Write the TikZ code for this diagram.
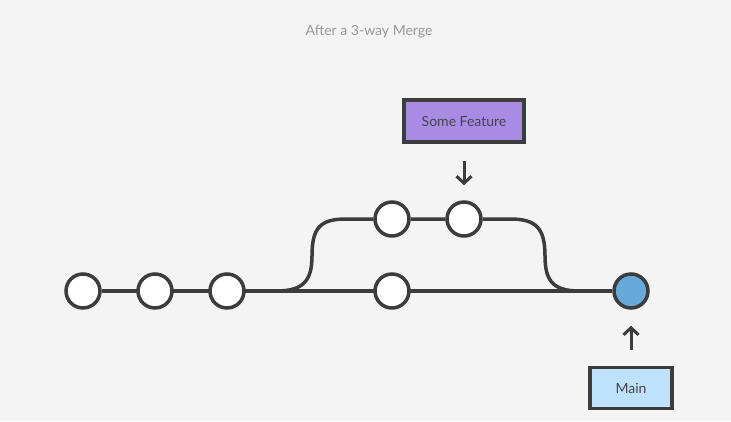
\documentclass[tikz,border=0pt]{standalone}
\usepackage{fontspec}
\setmainfont{Lato}
\usepackage{tikz}
\usetikzlibrary{positioning}
\usetikzlibrary{arrows.meta}
\pgfdeclarelayer{background}
\pgfdeclarelayer{foreground}
\pgfsetlayers{background,main,foreground}

\definecolor{bgcol}{HTML}{F4F4F4}
\definecolor{linecol}{HTML}{3C3C3C}
\definecolor{featcol}{HTML}{A88BE2}
\definecolor{maincol}{HTML}{BEE2FB}
\definecolor{headcol}{HTML}{68A9DB}
\definecolor{titlecol}{HTML}{999999}

\begin{document}
\begin{tikzpicture}[x=1pt,y=-1pt,
							commitnode/.style={circle, draw=linecol, fill=white, line width=3.5pt, minimum size=34pt, inner sep=0pt},
							branchnode/.style={rectangle, draw=linecol, line width=3.5pt, minimum width=120pt, minimum height=42pt, inner sep=0pt, text=linecol!90!featcol, font=\fontsize{14}{16}\selectfont},
							pointer/.style={draw=linecol, line width=3pt, -{Straight Barb[length=7pt,width=15pt,line width=3pt]}},
							]
							\useasboundingbox (0,0) rectangle (731,421);
							%Nodes
							\node[text=titlecol, font=\fontsize{14}{16}\selectfont] (title) at (369,32) {After a 3-way Merge};
							\node[commitnode]      (c1) 	at 	(83,291)           {};
							\node[commitnode]      (c2) 	at 	(155,291)          {};
							\node[commitnode]      (c3) 	at 	(227,291)          {};
							\node[commitnode]      (c4) 	at 	(392,291)          {};
							\node[commitnode]      (f1) 	at 	(392,219)          {};
							\node[commitnode]      (f2) 	at 	(464,219)          {};
							\node[commitnode, fill=headcol] (c5) at (631,291)      {};
							\node[branchnode, fill=featcol]  (feat) at (464,121)  {Some Feature};
							\node[branchnode, fill=maincol, minimum width=82pt, minimum height=41pt] (main) at (631,388) {Main};
							\coordinate (split) at (276,291);
							\coordinate (join)  at (580,291);

							\begin{pgfonlayer}{background}
							\fill[bgcol] (0,0) rectangle (731,421);
							\draw[linecol, line width=3.5pt] (c1) -- (c5);
							\draw[linecol, line width=3.5pt] (split) .. controls (302,291) and (312,282) .. (312,256)
								.. controls (312,228) and (320,219) .. (346,219) -- (f1) -- (f2) -- (510,219)
								.. controls (536,219) and (545,228) .. (545,256)
								.. controls (545,282) and (554,291) .. (join);
							\end{pgfonlayer}

							\draw[pointer, shorten <=17pt, shorten >=15pt] (feat) -- (f2);
							\draw[pointer, shorten <=16pt, shorten >=16pt] (main) -- (c5);
						\end{tikzpicture}
\end{document}
